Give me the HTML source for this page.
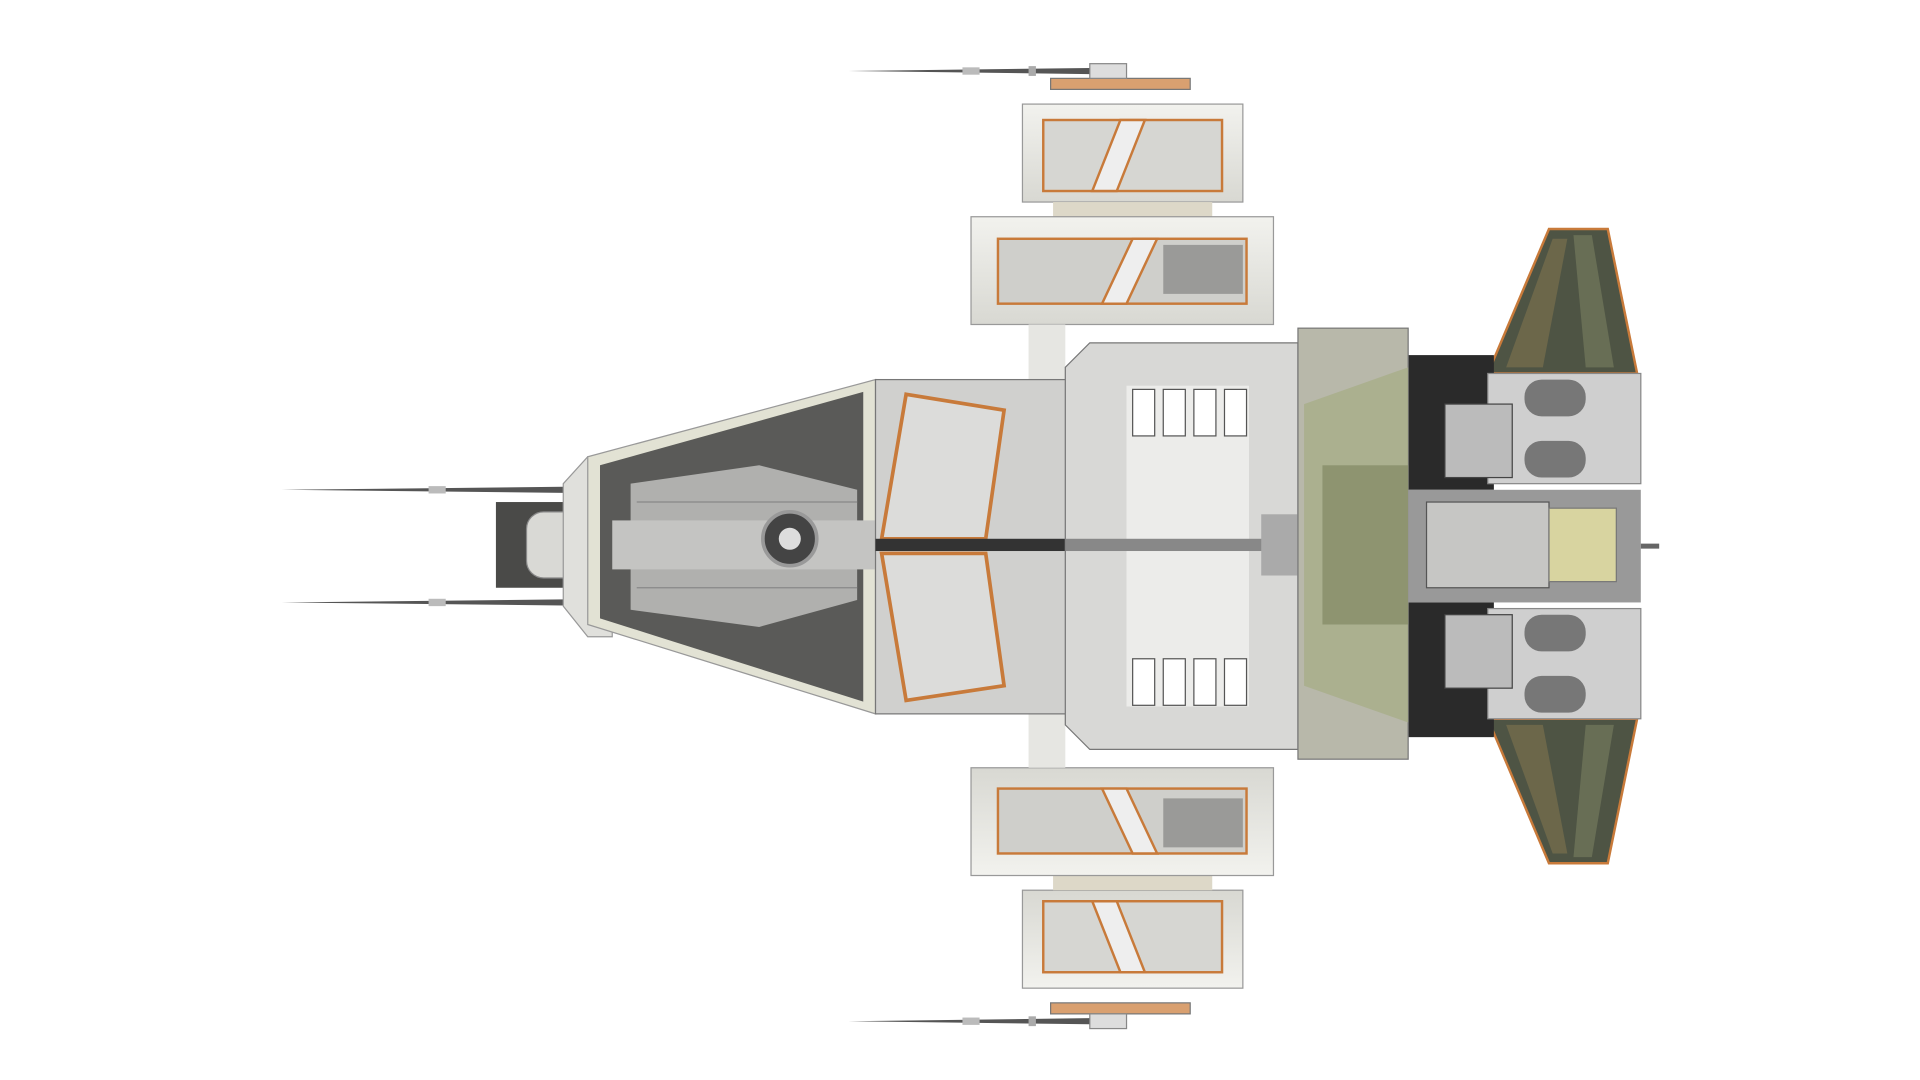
<!DOCTYPE html>
<html><head><meta charset="utf-8"><style>
html,body{margin:0;padding:0;background:#fff;width:1920px;height:1080px;overflow:hidden}
svg{display:block}
</style></head><body>
<svg width="1920" height="1080" viewBox="0 0 1568 882" preserveAspectRatio="none" xmlns="http://www.w3.org/2000/svg">
<defs>
<linearGradient id="pod" x1="0" y1="0" x2="0" y2="1"><stop offset="0" stop-color="#f2f2ee"/><stop offset="1" stop-color="#d8d8d2"/></linearGradient>
<g id="half">
  <polygon points="693,58 890,55.5 890,60.5" fill="#555"/>
  <rect x="786" y="55" width="14" height="6" fill="#bbb"/>
  <rect x="840" y="54" width="6" height="8" fill="#aaa"/>
  <rect x="858" y="64" width="114" height="9" fill="#d9a070" stroke="#777"/>
  <rect x="890" y="52" width="30" height="12" fill="#ddd" stroke="#888"/>
  <rect x="835" y="85" width="180" height="80" fill="url(#pod)" stroke="#999"/>
  <rect x="852" y="98" width="146" height="58" fill="#d6d6d2" stroke="#c87a3a" stroke-width="2"/>
  <polygon points="915,98 935,98 912,156 892,156" fill="#eee" stroke="#c87a3a" stroke-width="2"/>
  <rect x="860" y="165" width="130" height="12" fill="#ddd8c8"/>
  <rect x="793" y="177" width="247" height="88" fill="url(#pod)" stroke="#999"/>
  <rect x="815" y="195" width="203" height="53" fill="#cfcfcb" stroke="#c87a3a" stroke-width="2"/>
  <polygon points="925,195 945,195 920,248 900,248" fill="#eee" stroke="#c87a3a" stroke-width="2"/>
  <rect x="950" y="200" width="65" height="40" fill="#9a9a98"/>
  <rect x="840" y="265" width="30" height="45" fill="#e6e6e2"/>
  <polygon points="1265,187 1313,187 1337,305 1215,305" fill="#4e5444" stroke="#c87a3a" stroke-width="2"/>
  <polygon points="1285,192 1300,192 1318,300 1295,300" fill="#7a8060" opacity=".6"/>
  <polygon points="1268,195 1280,195 1260,300 1230,300" fill="#8a7a50" opacity=".5"/>
  <polygon points="230,400 460,397.5 460,402.5" fill="#555"/>
  <rect x="350" y="397" width="14" height="6" fill="#bbb"/>
  <rect x="1150" y="290" width="70" height="110" fill="#2a2a2a"/>
  <rect x="1215" y="305" width="125" height="90" fill="#cfcfcf" stroke="#888"/>
  <rect x="1245" y="310" width="50" height="30" rx="14" fill="#777"/>
  <rect x="1245" y="360" width="50" height="30" rx="14" fill="#777"/>
  <rect x="1180" y="330" width="55" height="60" fill="#bbb" stroke="#444"/>
</g>
</defs>
<use href="#half"/>
<use href="#half" transform="translate(0,892) scale(1,-1)"/>
<rect x="405" y="410" width="60" height="70" fill="#4a4a48"/>
<rect x="430" y="418" width="70" height="54" rx="14" fill="#d9d9d5" stroke="#888"/>
<polygon points="460,395 480,373 500,373 500,520 480,520 460,495" fill="#e0e0dc" stroke="#999"/>
<polygon points="480,373 715,310 715,583 480,510" fill="#e2e2d4" stroke="#999"/>
<polygon points="490,380 705,320 705,573 490,505" fill="#5a5a58"/>
<polygon points="515,395 620,380 700,400 700,490 620,512 515,498" fill="#b0b0ae"/>
<rect x="500" y="425" width="215" height="40" fill="#c4c4c2"/>
<line x1="520" y1="410" x2="700" y2="410" stroke="#888"/>
<line x1="520" y1="480" x2="700" y2="480" stroke="#888"/>
<circle cx="645" cy="440" r="22" fill="#444" stroke="#999" stroke-width="3"/>
<circle cx="645" cy="440" r="9" fill="#ddd"/>
<rect x="715" y="310" width="160" height="273" fill="#d0d0ce" stroke="#777"/>
<polygon points="740,322 820,335 805,440 720,440" fill="#dcdcda" stroke="#c87a3a" stroke-width="3"/>
<polygon points="720,452 805,452 820,560 740,572" fill="#dcdcda" stroke="#c87a3a" stroke-width="3"/>
<rect x="715" y="440" width="160" height="10" fill="#333"/>
<polygon points="870,300 890,280 1060,280 1060,612 890,612 870,592" fill="#d8d8d6" stroke="#777"/>
<rect x="920" y="315" width="100" height="262" fill="#ececea"/>
<rect x="925" y="318" width="18" height="38" fill="#fff" stroke="#555"/>
<rect x="950" y="318" width="18" height="38" fill="#fff" stroke="#555"/>
<rect x="975" y="318" width="18" height="38" fill="#fff" stroke="#555"/>
<rect x="1000" y="318" width="18" height="38" fill="#fff" stroke="#555"/>
<rect x="925" y="538" width="18" height="38" fill="#fff" stroke="#555"/>
<rect x="950" y="538" width="18" height="38" fill="#fff" stroke="#555"/>
<rect x="975" y="538" width="18" height="38" fill="#fff" stroke="#555"/>
<rect x="1000" y="538" width="18" height="38" fill="#fff" stroke="#555"/>
<rect x="870" y="440" width="190" height="10" fill="#888"/>
<rect x="1030" y="420" width="30" height="50" fill="#aaa"/>
<rect x="1060" y="268" width="90" height="352" fill="#b8b8aa" stroke="#777"/>
<polygon points="1065,330 1150,300 1150,590 1065,560" fill="#a8ae88" opacity=".8"/>
<rect x="1080" y="380" width="70" height="130" fill="#8e9470"/>
<rect x="1150" y="400" width="190" height="92" fill="#999"/>
<rect x="1165" y="410" width="100" height="70" fill="#c6c6c4" stroke="#555"/>
<rect x="1265" y="415" width="55" height="60" fill="#d8d4a0" stroke="#777"/>
<line x1="1340" y1="446" x2="1355" y2="446" stroke="#666" stroke-width="4"/>
</svg>
</body></html>
